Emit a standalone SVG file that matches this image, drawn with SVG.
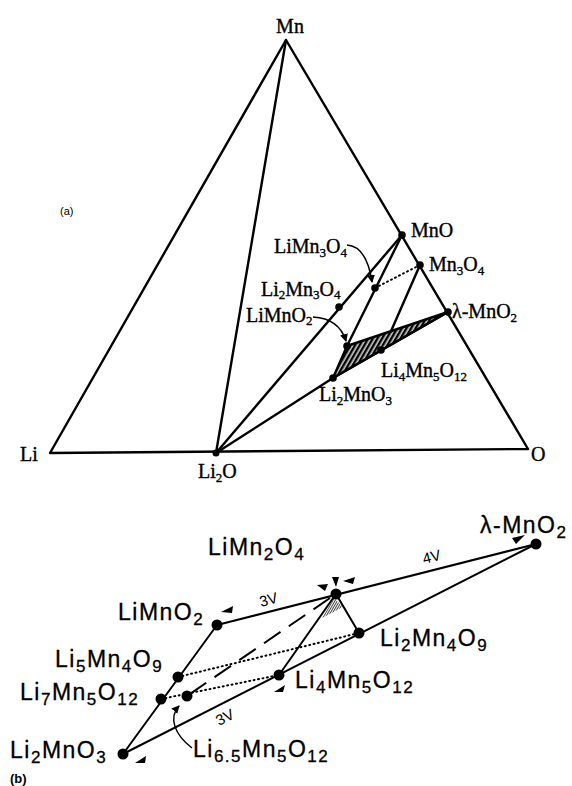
<svg xmlns="http://www.w3.org/2000/svg" width="572" height="786" viewBox="0 0 572 786">
<style>
.t{font-family:"Liberation Serif",serif;font-size:20px;fill:#000;stroke:#000;stroke-width:0.35}
.ts{font-size:13px}
.b{font-family:"Liberation Sans",Arial,sans-serif;font-size:23px;letter-spacing:1.5px;fill:#000;stroke:#000;stroke-width:0.3}
.bs{font-size:17px}
.v{font-family:"Liberation Sans",Arial,sans-serif;font-size:15px;fill:#000}
.L{stroke:#000;stroke-width:2.4;fill:none;stroke-linecap:round;stroke-linejoin:round}
.l{stroke:#000;stroke-width:2;fill:none;stroke-linecap:round}
.dot{stroke:#000;stroke-width:2;fill:none;stroke-dasharray:1 3.5;stroke-linecap:round}
.dash{stroke:#000;stroke-width:2;fill:none;stroke-dasharray:20 10}
.thin{stroke:#000;stroke-width:1.5;fill:none}
</style>
<defs>
<pattern id="hatch" patternUnits="userSpaceOnUse" width="4" height="4" patternTransform="rotate(30)">
<rect width="4" height="4" fill="#000"/><rect x="1.5" width="1.3" height="4" fill="#fff"/>
</pattern>
<pattern id="hatch2" patternUnits="userSpaceOnUse" width="2" height="2" patternTransform="rotate(30)">
<rect width="2" height="2" fill="#fff"/><rect x="0" width="1" height="2" fill="#444"/>
</pattern>
<marker id="ah" markerWidth="8" markerHeight="8" refX="7" refY="4" orient="auto" markerUnits="userSpaceOnUse">
<path d="M0,0 L8,4 L0,8 Z" fill="#000"/>
</marker>
</defs>

<g id="connectors">
<path class="L" d="M286,40 L50,453 L528,449 Z"/>
<line class="L" x1="286" y1="40" x2="216" y2="453"/>
<line class="L" x1="216" y1="453" x2="402" y2="235"/>
<line class="L" x1="216" y1="453" x2="333" y2="378"/>
<line class="L" x1="402" y1="235" x2="347" y2="346"/>
<line class="L" x1="420" y1="265" x2="388" y2="338"/>
<line class="dot" x1="375" y1="288" x2="420" y2="265"/>
<path d="M347,346 L333,378 L448,312 Z" fill="url(#hatch)" stroke="#000" stroke-width="2.4" stroke-linejoin="round"/>
<line class="L" x1="333" y1="378" x2="448" y2="312" stroke-width="3.5"/>
<path class="thin" d="M347,245 C362,246 369,262 372,282" marker-end="url(#ah)"/>
<path class="thin" d="M313,317 C332,318 342,328 346,341" marker-end="url(#ah)"/>

<path d="M334,598 L322,618 L343,607 Z" fill="url(#hatch2)"/>
<line class="l" x1="536" y1="544" x2="217" y2="625"/>
<line class="l" x1="536" y1="544" x2="123" y2="754"/>
<line class="l" x1="217" y1="625" x2="123" y2="754"/>
<line class="l" x1="336" y1="594" x2="279" y2="675"/>
<line class="l" x1="336" y1="594" x2="359" y2="633"/>
<line class="dot" x1="178" y1="677" x2="359" y2="633"/>
<line class="dot" x1="161" y1="699" x2="279" y2="675"/>
<line class="dash" x1="330" y1="598" x2="187" y2="696"/>
<path class="thin" d="M192,748 C175,735 168,718 179,706" marker-end="url(#ah)"/>
<polygon points="221,612 233,606 232,613" fill="#000"/>
<polygon points="512,538 525,535 516,544" fill="#000"/>
<polygon points="317,585 328,584 325,591" fill="#000"/>
<polygon points="332,577 339,577 336,587" fill="#000"/>
<polygon points="343,581 355,577 353,584" fill="#000"/>
<polygon points="274,692 285,685 283,692" fill="#000"/>
<polygon points="135,763 146,756 145,763" fill="#000"/>
</g>

<g id="Mn"><text class="t" x="290" y="33" text-anchor="middle" font-size="21">Mn</text></g>
<g id="Li"><text class="t" x="20" y="461" font-size="22">Li</text></g>
<g id="O"><text class="t" x="531" y="461" font-size="22">O</text></g>
<g id="Li2O"><circle cx="216" cy="453" r="3.5"/><text class="t" x="198" y="478">Li<tspan class="ts" dy="4">2</tspan><tspan dy="-4">O</tspan></text></g>
<g id="label-a"><text x="60" y="215" font-family="Liberation Sans,Arial,sans-serif" font-size="11">(a)</text></g>
<g id="MnO"><circle cx="402" cy="235" r="3.8"/><text class="t" x="411" y="237">MnO</text></g>
<g id="Mn3O4"><circle cx="420" cy="265" r="3.8"/><text class="t" x="429" y="271">Mn<tspan class="ts" dy="4">3</tspan><tspan dy="-4">O</tspan><tspan class="ts" dy="4">4</tspan></text></g>
<g id="LiMn3O4"><circle cx="375" cy="288" r="3.8"/><text class="t" x="274" y="253">LiMn<tspan class="ts" dy="4">3</tspan><tspan dy="-4">O</tspan><tspan class="ts" dy="4">4</tspan></text></g>
<g id="Li2Mn3O4"><circle cx="339" cy="307" r="3.8"/><text class="t" x="261" y="296">Li<tspan class="ts" dy="3">2</tspan><tspan dy="-3">Mn</tspan><tspan class="ts" dy="3">3</tspan><tspan dy="-3">O</tspan><tspan class="ts" dy="3">4</tspan></text></g>
<g id="LiMnO2"><circle cx="347" cy="346" r="3.8"/><text class="t" x="246" y="322">LiMnO<tspan class="ts" dy="3">2</tspan></text></g>
<g id="lMnO2"><circle cx="448" cy="312" r="3.8"/><text class="t" x="452" y="318">λ-MnO<tspan class="ts" dy="4">2</tspan></text></g>
<g id="Li4Mn5O12"><circle cx="381" cy="350" r="3.8"/><text class="t" x="381" y="377">Li<tspan class="ts" dy="4">4</tspan><tspan dy="-4">Mn</tspan><tspan class="ts" dy="4">5</tspan><tspan dy="-4">O</tspan><tspan class="ts" dy="4">12</tspan></text></g>
<g id="Li2MnO3"><circle cx="333" cy="378" r="3.8"/><text class="t" x="319" y="401">Li<tspan class="ts" dy="4">2</tspan><tspan dy="-4">MnO</tspan><tspan class="ts" dy="4">3</tspan></text></g>

<g id="b-LiMn2O4"><circle cx="336" cy="594" r="5.5"/><text class="b" x="208" y="555">LiMn<tspan class="bs" dy="5">2</tspan><tspan dy="-5">O</tspan><tspan class="bs" dy="5">4</tspan></text></g>
<g id="b-lMnO2"><circle cx="536" cy="544" r="5.5"/><text class="b" x="480" y="533">λ-MnO<tspan class="bs" dy="5">2</tspan></text></g>
<g id="b-LiMnO2"><circle cx="217" cy="625" r="5.5"/><text class="b" x="118" y="620">LiMnO<tspan class="bs" dy="5">2</tspan></text></g>
<g id="b-Li2Mn4O9"><circle cx="359" cy="633" r="5.5"/><text class="b" x="380" y="646">Li<tspan class="bs" dy="5">2</tspan><tspan dy="-5">Mn</tspan><tspan class="bs" dy="5">4</tspan><tspan dy="-5">O</tspan><tspan class="bs" dy="5">9</tspan></text></g>
<g id="b-Li5Mn4O9"><circle cx="178" cy="677" r="5.5"/><text class="b" x="55" y="667">Li<tspan class="bs" dy="5">5</tspan><tspan dy="-5">Mn</tspan><tspan class="bs" dy="5">4</tspan><tspan dy="-5">O</tspan><tspan class="bs" dy="5">9</tspan></text></g>
<g id="b-Li7Mn5O12"><circle cx="161" cy="699" r="5.5"/><text class="b" x="20" y="700">Li<tspan class="bs" dy="5">7</tspan><tspan dy="-5">Mn</tspan><tspan class="bs" dy="5">5</tspan><tspan dy="-5">O</tspan><tspan class="bs" dy="5">12</tspan></text></g>
<g id="b-Li65Mn5O12"><circle cx="187" cy="696" r="5.5"/><text class="b" x="193" y="757">Li<tspan class="bs" dy="5">6.5</tspan><tspan dy="-5">Mn</tspan><tspan class="bs" dy="5">5</tspan><tspan dy="-5">O</tspan><tspan class="bs" dy="5">12</tspan></text></g>
<g id="b-Li4Mn5O12"><circle cx="279" cy="675" r="5.5"/><text class="b" x="295" y="688">Li<tspan class="bs" dy="5">4</tspan><tspan dy="-5">Mn</tspan><tspan class="bs" dy="5">5</tspan><tspan dy="-5">O</tspan><tspan class="bs" dy="5">12</tspan></text></g>
<g id="b-Li2MnO3"><circle cx="123" cy="754" r="5.5"/><text class="b" x="10" y="758">Li<tspan class="bs" dy="5">2</tspan><tspan dy="-5">MnO</tspan><tspan class="bs" dy="5">3</tspan></text></g>
<g id="v-labels">
<text class="v" transform="translate(261,607) rotate(-15)">3V</text>
<text class="v" transform="translate(424,564) rotate(-14)">4V</text>
<text class="v" transform="translate(219,726) rotate(-27)">3V</text>
</g>
<g id="label-b"><text x="10" y="783" font-family="Liberation Sans,Arial,sans-serif" font-size="13" font-weight="bold">(b)</text></g>
</svg>
